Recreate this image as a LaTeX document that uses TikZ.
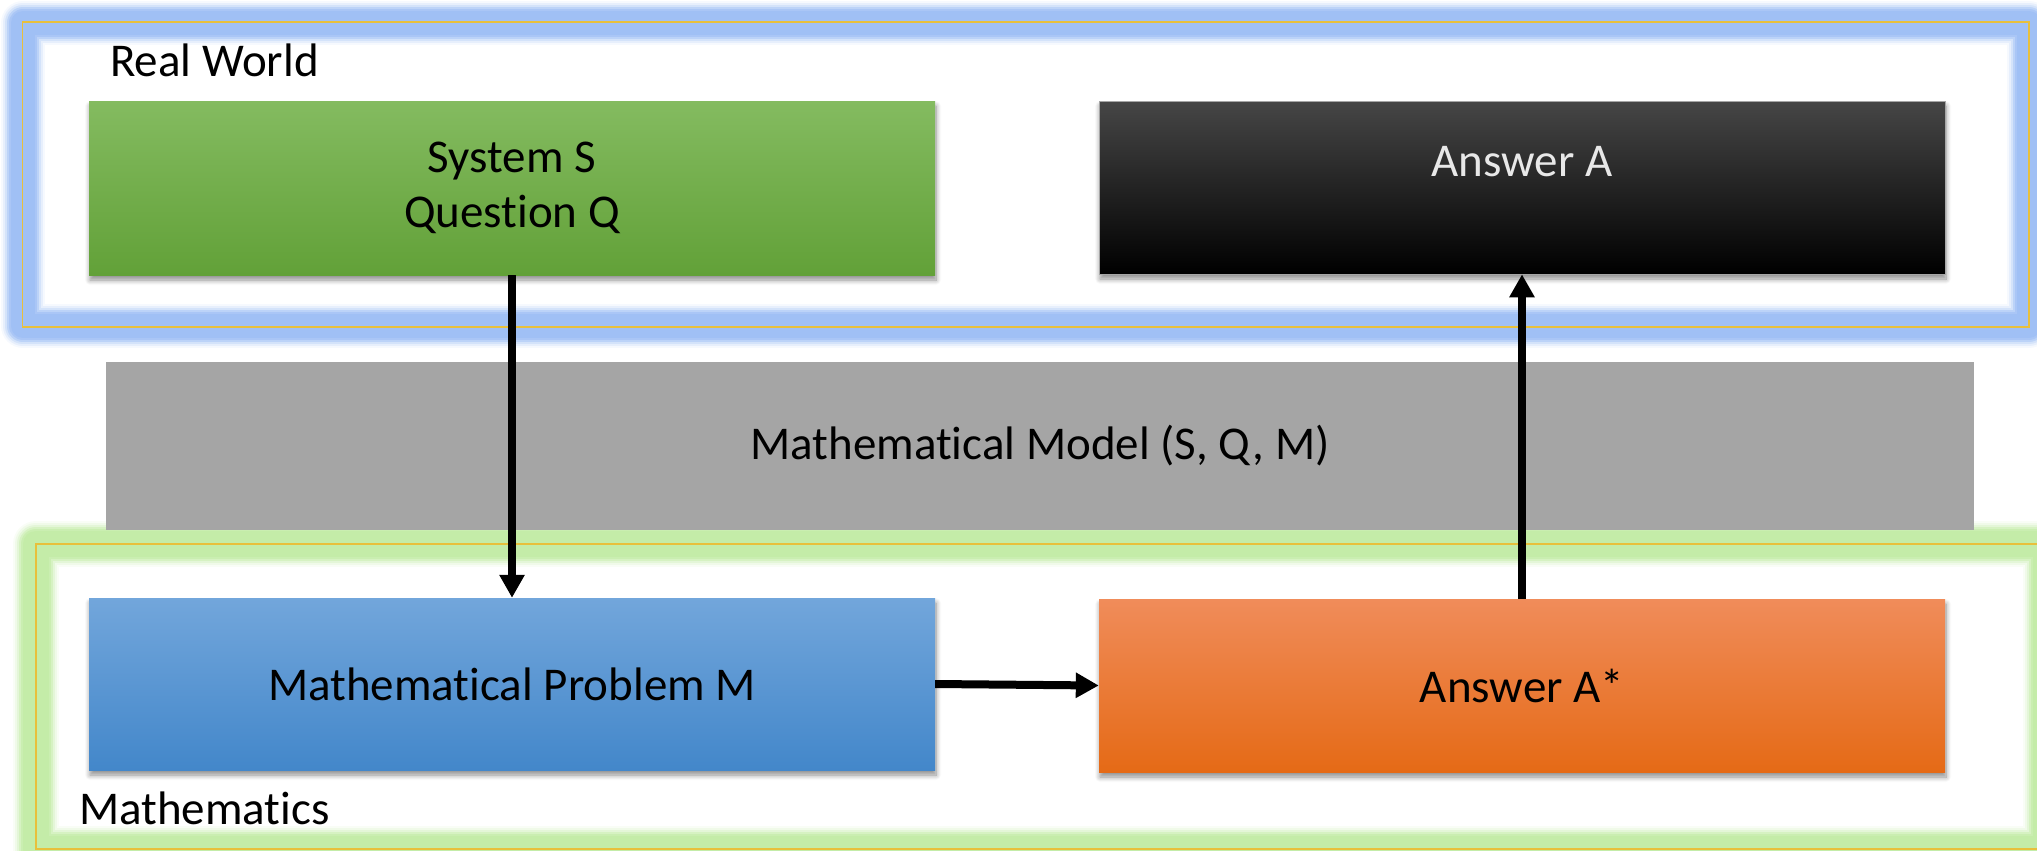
\documentclass[tikz,border=0pt]{standalone}
\usepackage{fontspec}
\setmainfont{Carlito}[Ligatures=CommonOff]
\usetikzlibrary{arrows.meta,shadows.blur}
\definecolor{glowblue}{RGB}{160,192,245}
\definecolor{glowgreen}{RGB}{196,236,168}
\definecolor{frameyellow}{RGB}{232,192,60}
\definecolor{gtop}{RGB}{132,187,96}
\definecolor{gbot}{RGB}{98,161,56}
\definecolor{btop}{RGB}{114,166,219}
\definecolor{bmid}{RGB}{86,151,216}
\definecolor{bbot}{RGB}{67,135,202}
\definecolor{otop}{RGB}{240,140,90}
\definecolor{omid}{RGB}{242,125,42}
\definecolor{obot}{RGB}{229,106,22}
\definecolor{ktop}{RGB}{70,70,70}
\definecolor{modelgray}{RGB}{165,165,165}
\definecolor{anstext}{RGB}{232,232,232}
\tikzset{
  boxbase/.style={rectangle, inner sep=0pt, minimum width=846pt, align=center,
    font=\fontsize{47}{55}\selectfont, text=black,
    blur shadow={shadow xshift=1pt, shadow yshift=-5pt, shadow blur radius=5pt, shadow blur steps=8, shadow opacity=45}},
  greenbox/.style={boxbase, minimum height=174pt, top color=gtop, middle color={rgb,255:red,112;green,173;blue,71}, bottom color=gbot},
  bluebox/.style={boxbase, minimum height=172pt, top color=btop, middle color=bmid, bottom color=bbot},
  orangebox/.style={boxbase, minimum height=173pt, top color=otop, middle color=omid, bottom color=obot},
  blackbox/.style={boxbase, minimum height=173pt, top color=ktop, middle color=black, bottom color=black, draw=gray!70, line width=0.6pt},
  graybox/.style={rectangle, inner sep=0pt, minimum width=1868pt, minimum height=168pt, fill=modelgray,
    font=\fontsize{47}{55}\selectfont},
  plain/.style={inner sep=0pt, font=\fontsize{47}{55}\selectfont},
  arr/.style={line width=8pt, -{Triangle[length=23pt,width=24pt]}, shorten >=0pt}
}
\begin{document}
\begin{tikzpicture}[x=1pt,y=-1pt]
\useasboundingbox (0,0) rectangle (2037,851);
\clip (0,0) rectangle (2037,851);
% blue glow frame (Real World)
\foreach \w/\c in {44/10,40/25,36/45,32/70,28/90,24/100}{
  \draw[line width=\w pt, glowblue!\c!white, line join=round] (23,23) rectangle (2029,326);
}
\draw[line width=1.5pt, frameyellow] (22.5,22) rectangle (2029,327);
% green glow frame (Mathematics)
\foreach \w/\c in {46/10,42/25,38/45,34/70,30/90,26/100}{
  \draw[line width=\w pt, glowgreen!\c!white, line join=round] (36,544) rectangle (2046,849);
}
\draw[line width=1.5pt, frameyellow] (36,544) rectangle (2046,849);
% model band
\node[graybox] (model) at (1040,446) {Mathematical Model (S, Q, M)};
% boxes
\node[greenbox] (sys) at (512,188) {System S\\Question Q};
\node[blackbox] (ansA) at (1522,187.5) {};
\node[plain, text=anstext] (ansAtext) at (1522,162) {Answer A};
\node[bluebox] (prob) at (512,684) {Mathematical Problem M};
\node[orangebox] (ansAs) at (1522,685.5) {Answer A*};
% labels
\node[plain, anchor=west] (rw) at (110,60) {Real World};
\node[plain, anchor=west] (math) at (79,808) {Mathematics};
% arrows
\draw[arr] (sys.south) -- (prob.north);
\draw[arr] (prob.east) -- (ansAs.west);
\draw[arr] (ansAs.north) -- (ansA.south);
\end{tikzpicture}
\end{document}
